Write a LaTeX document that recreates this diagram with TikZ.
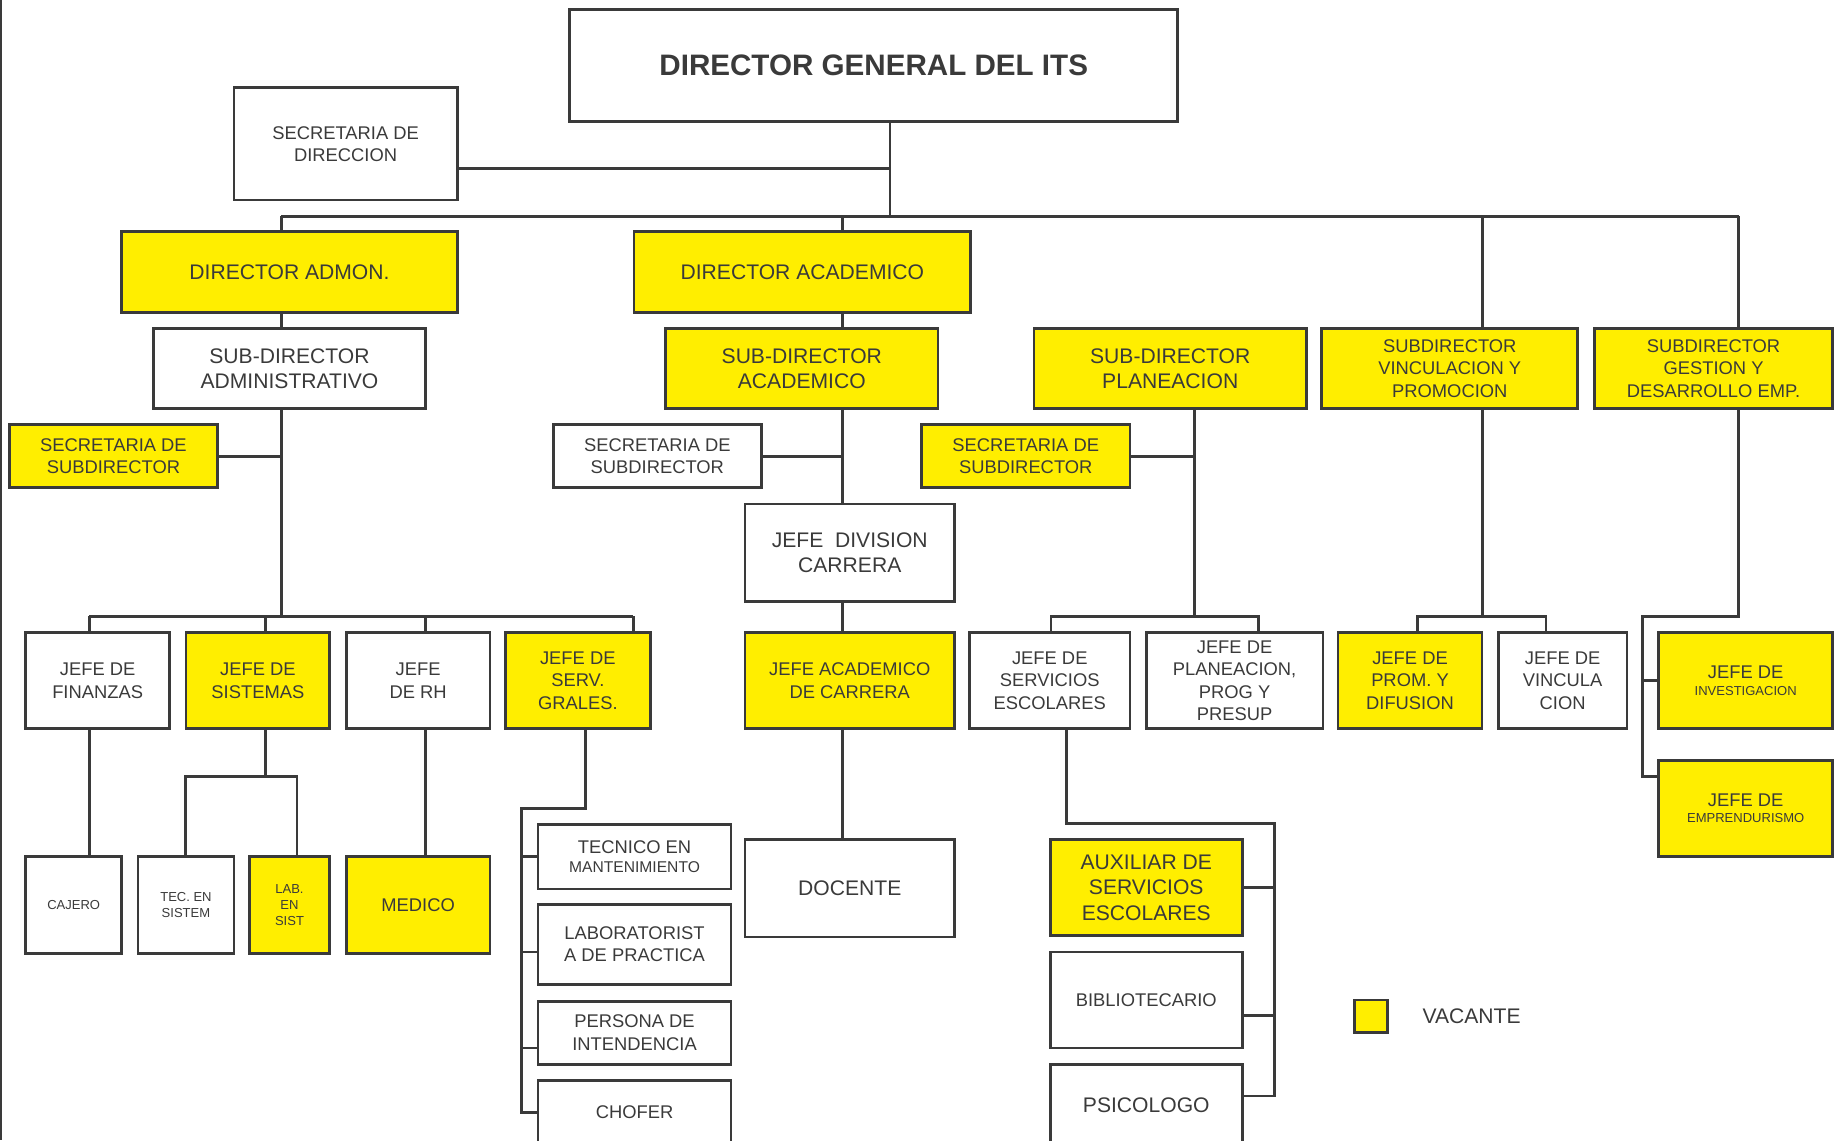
\documentclass[tikz,border=0pt]{standalone}
\usepackage{fontspec}
\setmainfont{Liberation Sans}
\usepackage{tikz}
\usetikzlibrary{calc, positioning}
\definecolor{vacante}{RGB}{255,238,0}
\definecolor{linea}{RGB}{58,58,58}
\tikzset{
    box/.style 2 args={draw=linea, line width=2pt, inner sep=0pt, outer sep=0pt, align=center, text=linea,
        minimum width=#1*0.3mm, minimum height=#2*0.3mm},
    vac/.style={fill=vacante},
    fttl/.style={font=\fontsize{21.6}{26}\selectfont\bfseries},
    fbig/.style={font=\fontsize{15.4}{18.4}\selectfont},
    fmid/.style={font=\fontsize{13.4}{16.3}\selectfont},
    fsml/.style={font=\fontsize{9.5}{11.7}\selectfont},
    conn/.style={draw=linea, line width=2pt},
}

\begin{document}
\begin{tikzpicture}[x=0.3mm, y=-0.3mm]
    \useasboundingbox (0,0) rectangle (1568,975);
    \clip (0,0) rectangle (1568,975);
    \draw[linea, line width=1.5pt] (1,0) -- (1,975);

    \node[box={520}{96}, fttl] (dir) at (747,56) {DIRECTOR GENERAL DEL ITS};
    \node[box={191}{96}, fmid] (secdir) at (295.5,123) {SECRETARIA DE\\DIRECCION};

    \node[box={287}{69}, vac, fbig] (admon) at (247.5,232.5) {DIRECTOR ADMON.};
    \node[box={288}{69}, vac, fbig] (acad) at (686,232.5) {DIRECTOR ACADEMICO};

    \node[box={233}{68}, fbig] (subadm) at (247.5,315) {SUB-DIRECTOR\\ADMINISTRATIVO};
    \node[box={233}{68}, vac, fbig] (subacad) at (685.5,315) {SUB-DIRECTOR\\ACADEMICO};
    \node[box={233}{68}, vac, fbig] (subplan) at (1000.5,315) {SUB-DIRECTOR\\PLANEACION};
    \node[box={219}{68}, vac, fmid] (subvinc) at (1239.5,315) {SUBDIRECTOR\\VINCULACION Y\\PROMOCION};
    \node[box={204}{68}, vac, fmid] (subgest) at (1465,315) {SUBDIRECTOR\\GESTION Y\\DESARROLLO EMP.};

    \node[box={178}{54}, vac, fmid] (secsub1) at (97,390) {SECRETARIA DE\\SUBDIRECTOR};
    \node[box={178}{54}, fmid] (secsub2) at (562,390) {SECRETARIA DE\\SUBDIRECTOR};
    \node[box={178}{54}, vac, fmid] (secsub3) at (877,390) {SECRETARIA DE\\SUBDIRECTOR};
    \node[box={179}{83}, fbig] (jdiv) at (726.5,472.5) {JEFE~ DIVISION\\CARRERA};

    \node[box={123}{82}, fmid] (fin) at (83.5,582) {JEFE DE\\FINANZAS};
    \node[box={123}{82}, vac, fmid] (sis) at (220.5,582) {JEFE DE\\SISTEMAS};
    \node[box={123}{82}, fmid] (rh) at (357.5,582) {JEFE\\DE RH};
    \node[box={124}{82}, vac, fmid] (serv) at (494,582) {JEFE DE\\SERV.\\GRALES.};
    \node[box={179}{82}, vac, fmid] (jacad) at (726.5,582) {JEFE ACADEMICO\\DE CARRERA};
    \node[box={137}{82}, fmid] (jserv) at (897.5,582) {JEFE DE\\SERVICIOS\\ESCOLARES};
    \node[box={151}{82}, fmid] (jplan) at (1055.5,582) {JEFE DE\\PLANEACION,\\PROG Y\\PRESUP};
    \node[box={123}{82}, vac, fmid] (jprom) at (1205.5,582) {JEFE DE\\PROM. Y\\DIFUSION};
    \node[box={110}{82}, fmid] (jvinc) at (1336,582) {JEFE DE\\VINCULA\\CION};
    \node[box={149}{82}, vac, fmid] (jinv) at (1492.5,582) {JEFE DE\\[-4pt]{\fontsize{9.5}{11}\selectfont INVESTIGACION}};
    \node[box={149}{82}, vac, fmid] (jemp) at (1492.5,691) {JEFE DE\\[-4pt]{\fontsize{9.5}{11}\selectfont EMPRENDURISMO}};

    \node[box={82}{83}, fsml] (caj) at (63,773.5) {CAJERO};
    \node[box={82}{83}, fsml] (tec) at (159,773.5) {TEC. EN\\SISTEM};
    \node[box={69}{83}, vac, fsml] (lab) at (247.5,773.5) {LAB.\\EN\\SIST};
    \node[box={123}{83}, vac, fmid] (med) at (357.5,773.5) {MEDICO};

    \node[box={165}{55}, fmid] (tecm) at (542.5,732.5) {TECNICO EN\\[-2pt]{\fontsize{11.4}{13}\selectfont MANTENIMIENTO}};
    \node[box={165}{69}, fmid] (labp) at (542.5,807.5) {LABORATORIST\\A DE PRACTICA};
    \node[box={165}{54}, fmid] (pers) at (542.5,883) {PERSONA DE\\INTENDENCIA};
    \node[box={165}{54}, fmid] (chof) at (542.5,951) {CHOFER};

    \node[box={179}{83}, fbig] (doc) at (726.5,759.5) {DOCENTE};

    \node[box={164}{82}, vac, fbig] (aux) at (980,759) {AUXILIAR DE\\SERVICIOS\\ESCOLARES};
    \node[box={164}{82}, fmid] (bib) at (980,855) {BIBLIOTECARIO};
    \node[box={164}{70}, fbig] (psi) at (980,945) {PSICOLOGO};

    \node[box={28}{28}, vac] (leg) at (1172,869) {};
    \node[fbig, text=linea, inner sep=0pt, anchor=west] (legtxt) at (1216,869) {VACANTE};

    \coordinate (jT) at (761,185);
    \coordinate (jS) at (761,144);
    \coordinate (bA) at (240.5,185);
    \coordinate (bB) at (720,185);
    \coordinate (bC) at (1267.5,185);
    \coordinate (bD) at (1486.5,185);
    \draw[conn] (dir.south -| jT) -- (jT);
    \draw[conn] (secdir.east |- jS) -- (jS);
    \draw[conn] (bA) -- (bD);
    \draw[conn] (bA) -- (admon.north -| bA);
    \draw[conn] (bB) -- (acad.north -| bB);
    \draw[conn] (bC) -- (subvinc.north -| bC);
    \draw[conn] (bD) -- (subgest.north -| bD);
    \draw[conn] (admon.south -| bA) -- (subadm.north -| bA);
    \draw[conn] (acad.south -| bB) -- (subacad.north -| bB);

    \coordinate (aJ) at (240.5,527);
    \coordinate (aL) at (76.5,527);
    \coordinate (aS) at (227,527);
    \coordinate (aH) at (363.6,527);
    \coordinate (aR) at (541.6,527);
    \draw[conn] (subadm.south -| aJ) -- (aJ);
    \draw[conn] (secsub1.east) -- (secsub1.east -| aJ);
    \draw[conn] (aL) -- (aR);
    \draw[conn] (aL) -- (fin.north -| aL);
    \draw[conn] (aS) -- (sis.north -| aS);
    \draw[conn] (aH) -- (rh.north -| aH);
    \draw[conn] (aR) -- (serv.north -| aR);
    \draw[conn] (fin.south -| aL) -- (caj.north -| aL);
    \draw[conn] (rh.south -| aH) -- (med.north -| aH);

    \coordinate (sJ) at (227,664);
    \coordinate (sL) at (158.5,664);
    \coordinate (sR) at (254,664);
    \draw[conn] (sis.south -| sJ) -- (sJ);
    \draw[conn] (tec.north -| sL) -- (sL) -- (sR) -- (lab.north -| sR);

    \coordinate (gJ) at (500.6,691);
    \coordinate (gL) at (446,691);
    \draw[conn] (serv.south -| gJ) -- (gJ) -- (gL) -- (gL |- chof.west) -- (chof.west);
    \draw[conn] (gL |- tecm.west) -- (tecm.west);
    \draw[conn] ($(labp.west)+(0,6.5)$) -- ($(gL |- labp.west)+(0,6.5)$);
    \draw[conn] ($(pers.west)+(0,13)$) -- ($(gL |- pers.west)+(0,13)$);

    \coordinate (cJ) at (720,390);
    \draw[conn] (subacad.south -| cJ) -- (jdiv.north -| cJ);
    \draw[conn] (secsub2.east) -- (cJ);
    \draw[conn] (jdiv.south -| cJ) -- (jacad.north -| cJ);
    \draw[conn] (jacad.south -| cJ) -- (doc.north -| cJ);

    \coordinate (pJ) at (1021,390);
    \coordinate (pB) at (1021,527);
    \coordinate (pL) at (898.6,527);
    \coordinate (pR) at (1076,527);
    \draw[conn] (subplan.south -| pJ) -- (pB);
    \draw[conn] (secsub3.east) -- (pJ);
    \draw[conn] (jserv.north -| pL) -- (pL) -- (pR) -- (jplan.north -| pR);

    \coordinate (eJ) at (912,704);
    \coordinate (eR) at (1089.5,704);
    \draw[conn] (jserv.south -| eJ) -- (eJ) -- (eR) -- ($(eR |- psi.east)+(0,-8)$) -- ($(psi.east)+(0,-8)$);
    \draw[conn] (aux.east) -- (aux.east -| eR);
    \draw[conn] ($(bib.east)+(0,13)$) -- ($(eR |- bib.east)+(0,13)$);

    \coordinate (vB) at (1267.5,527);
    \coordinate (vL) at (1212,527);
    \coordinate (vR) at (1321.7,527);
    \draw[conn] (subvinc.south -| vB) -- (vB);
    \draw[conn] (jprom.north -| vL) -- (vL) -- (vR) -- (jvinc.north -| vR);

    \coordinate (dB) at (1486.5,527);
    \coordinate (dK) at (1404,527);
    \draw[conn] (subgest.south -| dB) -- (dB) -- (dK) -- ($(dK |- jemp.west)+(0,-27)$) -- ($(jemp.west)+(0,-27)$);
    \draw[conn] (jinv.west -| dK) -- (jinv.west);
\end{tikzpicture}
\end{document}
